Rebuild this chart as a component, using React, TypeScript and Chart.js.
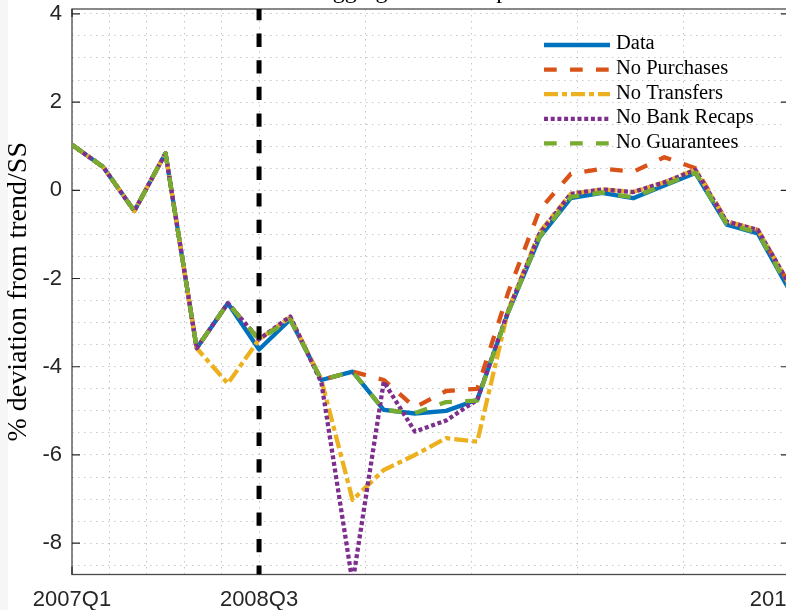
import React, { useEffect, useRef } from "react";
import { Chart, registerables } from "chart.js";

Chart.register(...registerables);

// ---------- data ----------
const quarters = [
  "2007Q1", "2007Q2", "2007Q3", "2007Q4",
  "2008Q1", "2008Q2", "2008Q3", "2008Q4",
  "2009Q1", "2009Q2", "2009Q3", "2009Q4",
  "2010Q1", "2010Q2", "2010Q3", "2010Q4",
  "2011Q1", "2011Q2", "2011Q3", "2011Q4",
  "2012Q1", "2012Q2", "2012Q3", "2012Q4",
];

const dataSeries = [1.03, 0.53, -0.47, 0.84, -3.58, -2.56, -3.61, -2.93, -4.30, -4.11, -4.98, -5.06, -5.00, -4.75, -2.75, -1.07, -0.18, -0.06, -0.18, 0.11, 0.39, -0.78, -0.98, -2.25];
const noPurchases = [1.03, 0.53, -0.47, 0.84, -3.58, -2.56, -3.38, -2.90, -4.30, -4.11, -4.30, -4.92, -4.55, -4.50, -2.30, -0.44, 0.37, 0.49, 0.42, 0.75, 0.50, -0.70, -0.90, -2.12];
const noTransfers = [1.03, 0.53, -0.47, 0.84, -3.58, -4.38, -3.38, -2.88, -4.30, -7.02, -6.34, -6.00, -5.62, -5.70, -2.70, -0.95, -0.08, 0.02, -0.04, 0.18, 0.47, -0.71, -0.90, -2.12];
const noBankRecaps = [1.03, 0.53, -0.47, 0.84, -3.58, -2.56, -3.38, -2.86, -4.36, -8.90, -4.34, -5.47, -5.22, -4.75, -2.72, -0.98, -0.08, 0.02, -0.04, 0.18, 0.46, -0.71, -0.90, -2.12];
const noGuarantees = [1.03, 0.53, -0.47, 0.84, -3.58, -2.56, -3.38, -2.93, -4.30, -4.11, -4.98, -5.05, -4.80, -4.77, -2.75, -1.05, -0.15, -0.05, -0.16, 0.12, 0.40, -0.76, -0.96, -2.22];

const tickQuarters = ["2007Q1", "2008Q3", "2012Q4"];
const eventQuarter = "2008Q3";
const yTickLabels = [-8, -6, -4, -2, 0, 2, 4];
const yMin = -8.71;
const yMax = 4.11;
const yLabel = "% deviation from trend/SS";
const titleText = "Aggregate consumption";

// ---------- helpers ----------
const toPoints = (arr: number[]) => arr.map((v, i) => ({ x: i, y: v }));
const majorIdx = tickQuarters.map((q) => quarters.indexOf(q));
const minorPerMajor = 5;
const xGridValues: number[] = [];
for (let k = 0; k < majorIdx.length - 1; k++) {
  const a = majorIdx[k];
  const b = majorIdx[k + 1];
  for (let j = 0; j < minorPerMajor; j++) xGridValues.push(a + ((b - a) * j) / minorPerMajor);
}
xGridValues.push(majorIdx[majorIdx.length - 1]);
const yGridValues: number[] = [];
for (let v = yTickLabels[0] - 0.5; v <= yTickLabels[yTickLabels.length - 1] + 1e-9; v += 0.5) {
  yGridValues.push(Math.round(v * 10) / 10);
}

const SANS = "'Liberation Sans', Arial, sans-serif";
const SERIF = "'Liberation Serif', 'Times New Roman', serif";
const AXIS_COLOR = "#262626";
const LW = 4.3;

const framePlugin = {
  id: "matlabFrame",
  beforeDatasetsDraw(chart: any) {
    const { ctx, chartArea, scales } = chart;
    const { left, right, top, bottom } = chartArea;
    ctx.save();
    ctx.strokeStyle = "#4a4a4a";
    ctx.lineWidth = 1.3;
    ctx.strokeRect(left, top, right - left, bottom - top);
    ctx.strokeStyle = AXIS_COLOR;
    ctx.lineWidth = 1.2;
    ctx.beginPath();
    yTickLabels.forEach((v) => {
      const py = scales.y.getPixelForValue(v);
      ctx.moveTo(left, py);
      ctx.lineTo(left + 8, py);
      ctx.moveTo(right, py);
      ctx.lineTo(right - 8, py);
    });
    majorIdx.forEach((i) => {
      const px = scales.x.getPixelForValue(i);
      ctx.moveTo(px, bottom);
      ctx.lineTo(px, bottom - 8);
      ctx.moveTo(px, top);
      ctx.lineTo(px, top + 8);
    });
    ctx.stroke();
    ctx.restore();
  },
  afterDraw(chart: any) {
    const { ctx, chartArea } = chart;
    ctx.save();
    ctx.font = `24px ${SERIF}`;
    ctx.fillStyle = "#000";
    ctx.textAlign = "center";
    ctx.textBaseline = "alphabetic";
    ctx.fillText(titleText, (chartArea.left + chartArea.right) / 2, chartArea.top - 11);
    ctx.restore();
  },
};

const legendPlugin = {
  id: "matlabLegend",
  afterDraw(chart: any) {
    const { ctx, chartArea } = chart;
    const items = chart.data.datasets.filter((d: any) => d.label);
    const x0 = chartArea.right - 245;
    const len = 66;
    items.forEach((ds: any, i: number) => {
      const yy = chartArea.top + 36 + i * 24.6;
      ctx.save();
      ctx.strokeStyle = ds.borderColor;
      ctx.lineWidth = ds.borderWidth;
      ctx.lineCap = "butt";
      ctx.setLineDash(ds.borderDash || []);
      ctx.beginPath();
      ctx.moveTo(x0, yy);
      ctx.lineTo(x0 + len, yy);
      ctx.stroke();
      ctx.setLineDash([]);
      ctx.fillStyle = "#000";
      ctx.font = `20.5px ${SERIF}`;
      ctx.textAlign = "left";
      ctx.textBaseline = "middle";
      ctx.fillText(ds.label, x0 + 72, yy - 1);
      ctx.restore();
    });
  },
};

export default function App() {
  const canvasRef = useRef<HTMLCanvasElement | null>(null);

  useEffect(() => {
    if (!canvasRef.current) return;
    const eventIdx = quarters.indexOf(eventQuarter);
    const common = { pointRadius: 0, tension: 0, fill: false, clip: 0, borderCapStyle: "butt", borderJoinStyle: "round" };
    const chart = new Chart(canvasRef.current, {
      type: "line",
      data: {
        datasets: [
          { ...common, label: "", data: [{ x: eventIdx, y: yMax }, { x: eventIdx, y: yMin }], borderColor: "#000", borderWidth: 5, borderDash: [13.3, 13.3], borderDashOffset: 2, order: 0 },
          { ...common, label: "Data", data: toPoints(dataSeries), borderColor: "#0072BD", borderWidth: LW, borderDash: [], order: 5 },
          { ...common, label: "No Purchases", data: toPoints(noPurchases), borderColor: "#D95319", borderWidth: LW, borderDash: [12.7, 13.3], order: 4 },
          { ...common, label: "No Transfers", data: toPoints(noTransfers), borderColor: "#EDB120", borderWidth: LW, borderDash: [14, 4, 5, 4], order: 3 },
          { ...common, label: "No Bank Recaps", data: toPoints(noBankRecaps), borderColor: "#7E2F8E", borderWidth: LW, borderDash: [4, 2.7], order: 2 },
          { ...common, label: "No Guarantees", data: toPoints(noGuarantees), borderColor: "#77AC30", borderWidth: LW, borderDash: [12.7, 13.3], order: 1 },
        ] as any,
      },
      options: {
        responsive: false,
        animation: false,
        events: [],
        layout: { padding: { left: 0, top: 9, right: 71, bottom: 0 } },
        plugins: { legend: { display: false }, tooltip: { enabled: false }, title: { display: false } },
        scales: {
          x: {
            type: "linear",
            min: 0,
            max: quarters.length - 1,
            afterBuildTicks: (s: any) => {
              s.ticks = xGridValues.map((v) => ({ value: v }));
            },
            afterFit: (s: any) => {
              s.height = 35.5;
              s.paddingLeft = 0;
              s.paddingRight = 0;
            },
            ticks: {
              autoSkip: false,
              maxRotation: 0,
              minRotation: 0,
              padding: 12,
              color: AXIS_COLOR,
              font: { family: SANS, size: 22 },
              callback: (v: any) => {
                const idx = majorIdx.findIndex((m) => Math.abs(m - Number(v)) < 1e-6);
                return idx >= 0 ? tickQuarters[idx] : "";
              },
            },
            grid: { color: "rgba(0,0,0,0.22)", lineWidth: 1, drawTicks: false },
            border: { display: false, dash: [1.5, 4.5] },
          },
          y: {
            type: "linear",
            min: yMin,
            max: yMax,
            afterBuildTicks: (s: any) => {
              s.ticks = yGridValues.map((v) => ({ value: v }));
            },
            afterFit: (s: any) => {
              s.width = 72;
              s.paddingTop = 0;
              s.paddingBottom = 0;
            },
            ticks: {
              autoSkip: false,
              padding: 10,
              color: AXIS_COLOR,
              font: { family: SANS, size: 22 },
              callback: (v: any) => {
                const n = Number(v);
                return yTickLabels.some((t) => Math.abs(t - n) < 1e-6) ? String(Math.round(n)) : "";
              },
            },
            grid: { color: "rgba(0,0,0,0.22)", lineWidth: 1, drawTicks: false },
            border: { display: false, dash: [1.5, 4.5] },
            title: {
              display: true,
              text: yLabel,
              color: "#000",
              font: { family: SERIF, size: 28 },
              padding: { top: 2, bottom: 0 },
            },
          },
        },
      } as any,
      plugins: [framePlugin, legendPlugin],
    });
    return () => chart.destroy();
  }, []);

  return (
    <div style={{ position: "fixed", left: 0, top: 0, width: 786, height: 610, overflow: "hidden", background: "#fff" }}>
      <div style={{ position: "absolute", left: 0, top: 0, width: 8, height: 610, background: "#f6f6f6" }} />
      <canvas
        ref={canvasRef}
        width={860}
        height={610}
        style={{ position: "absolute", left: 0, top: 0, width: 860, height: 610 }}
      />
    </div>
  );
}
